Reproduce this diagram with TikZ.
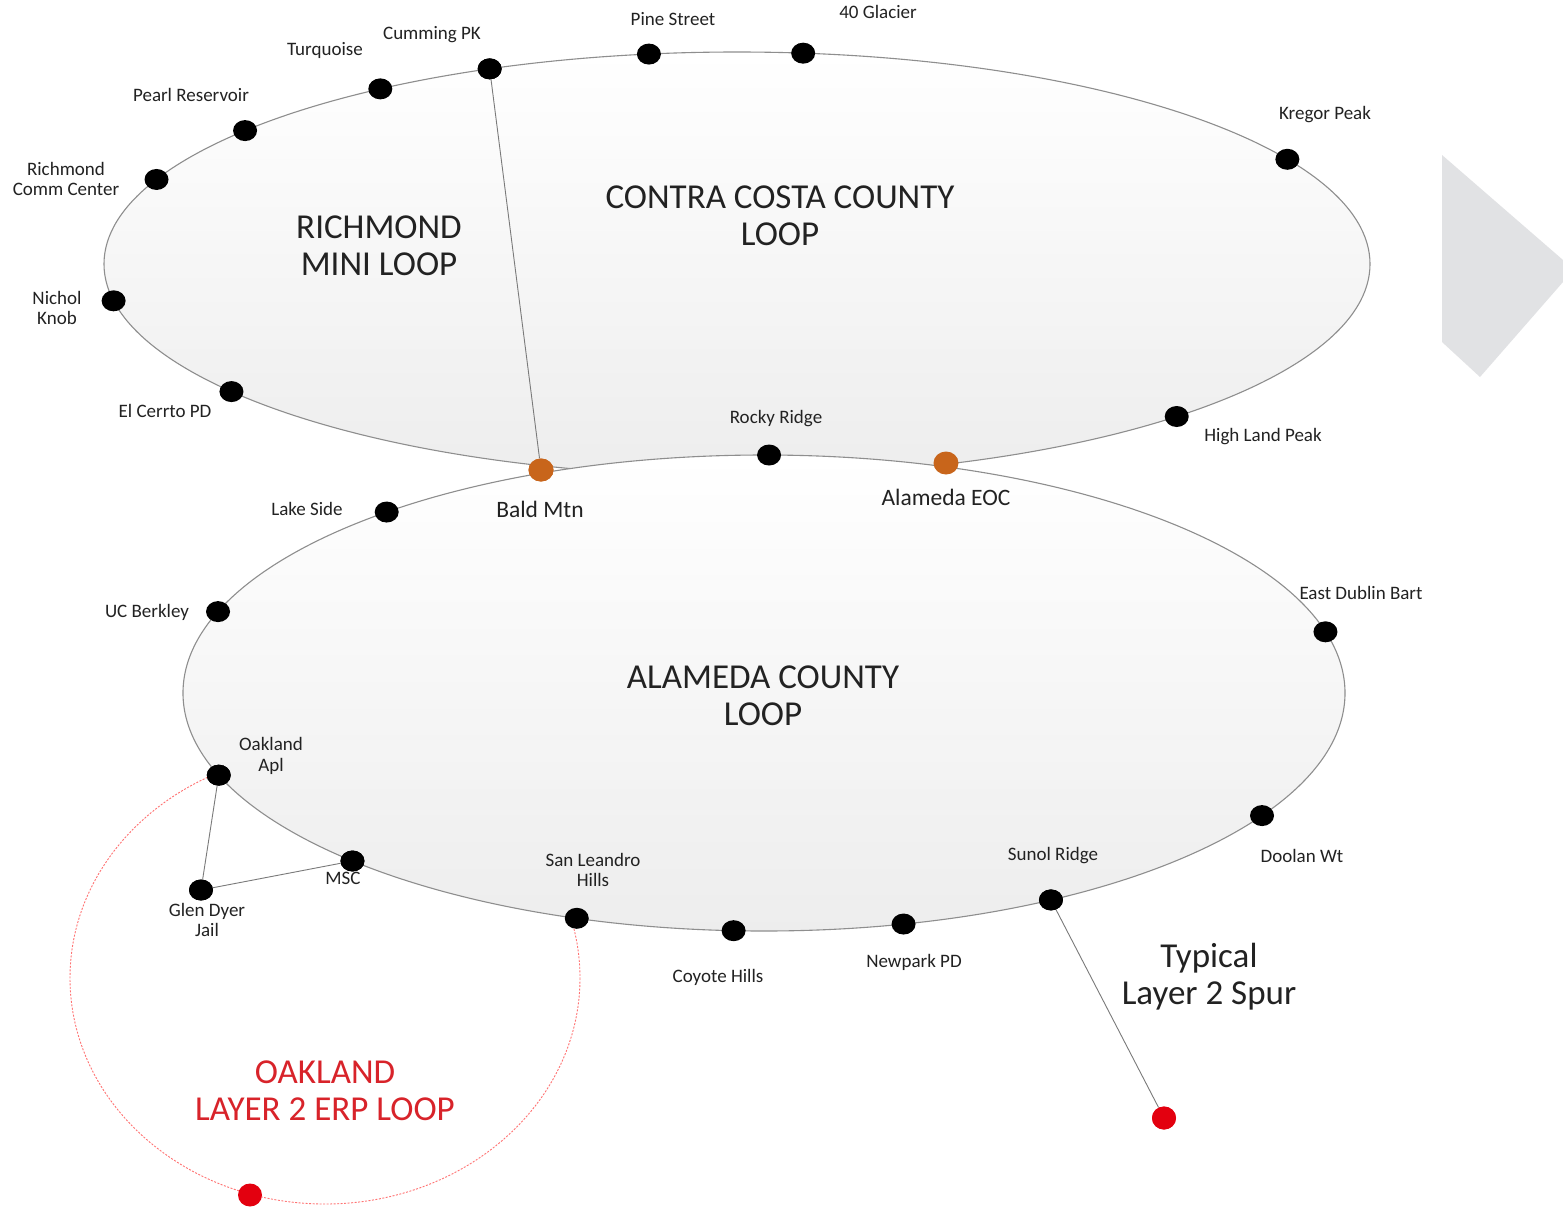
\documentclass[tikz,border=0pt]{standalone}
\usepackage{fontspec}
\setmainfont{Carlito}
\usetikzlibrary{shapes.geometric}
\definecolor{ringline}{HTML}{8E8E8E}
\definecolor{orangedot}{HTML}{C8651B}
\definecolor{reddot}{HTML}{E3000F}
\definecolor{redtext}{HTML}{D8232A}
\definecolor{txt}{HTML}{222222}
\definecolor{chev}{HTML}{E1E2E4}
\definecolor{linkc}{HTML}{7A7A7A}
\begin{document}
\begin{tikzpicture}[x=1pt,y=-1pt,
  dot/.style={ellipse,fill=black,minimum width=24pt,minimum height=21pt,inner sep=0pt},
  odot/.style={ellipse,fill=orangedot,minimum width=25pt,minimum height=23pt,inner sep=0pt},
  rdot/.style={ellipse,fill=reddot,minimum width=24pt,minimum height=23pt,inner sep=0pt},
  lbl/.style={font=\fontsize{19}{20.5}\selectfont,text=txt,align=center,inner sep=0pt},
  blbl/.style={font=\fontsize{23.5}{25}\selectfont,text=txt,inner sep=0pt},
  big/.style={font=\fontsize{35}{37}\selectfont,text=txt,align=center,inner sep=0pt},
  ring/.style={draw=ringline,line width=1.1pt,top color=white,bottom color=black!7},
  link/.style={draw=linkc,line width=0.9pt}]

\useasboundingbox (0,0) rectangle (1563,1210);
\fill[white] (0,0) rectangle (1563,1210);

% chevron
\fill[chev] (1442,155) -- (1563,260) -- (1563,282) -- (1480,377) -- (1442,342) -- cycle;

% Oakland dashed loop
\draw[draw=red!55, line width=0.9pt, dash pattern=on 2pt off 1.5pt] (325,978) ellipse [x radius=255, y radius=226];

% loops
\path[ring] (737,264) ellipse [x radius=633, y radius=212];
\path[ring] (764,693) ellipse [x radius=581, y radius=238];

% dots on Contra Costa loop
\path (737,264) ++(-98:633 and 212) node[dot] (pine) {};
\path (737,264) ++(-84:633 and 212) node[dot] (glacier) {};
\path (737,264) ++(-113:633 and 212) node[dot] (cumming) {};
\path (737,264) ++(-124.3:633 and 212) node[dot] (turq) {};
\path (737,264) ++(-141:633 and 212) node[dot] (pearl) {};
\path (737,264) ++(-156.5:633 and 212) node[dot] (richmond) {};
\path (737,264) ++(170:633 and 212) node[dot] (nichol) {};
\path (737,264) ++(143:633 and 212) node[dot] (elcerrto) {};
\path (737,264) ++(46:633 and 212) node[dot] (highland) {};
\path (737,264) ++(-29.6:633 and 212) node[dot] (kregor) {};

% dots on Alameda loop
\path (764,693) ++(-89.5:581 and 238) node[dot] (rocky) {};
\path (764,693) ++(-130.5:581 and 238) node[dot] (lakeside) {};
\path (764,693) ++(-160:581 and 238) node[dot] (ucb) {};
\path (764,693) ++(-14.9:581 and 238) node[dot] (dublin) {};
\path (764,693) ++(31:581 and 238) node[dot] (doolan) {};
\path (764,693) ++(60.4:581 and 238) node[dot] (sunol) {};
\path (764,693) ++(76.1:581 and 238) node[dot] (newpark) {};
\path (764,693) ++(93:581 and 238) node[dot] (coyote) {};
\path (764,693) ++(108.8:581 and 238) node[dot] (sanleandro) {};
\path (764,693) ++(135.1:581 and 238) node[dot] (msc) {};
\path (764,693) ++(159.8:581 and 238) node[dot] (oakapl) {};

% other dots
\node[dot] (glendyer) at (201,890) {};
\node[odot] (bald) at (541,470) {};
\node[odot] (eoc) at (946,463) {};
\node[rdot] (spur) at (1164,1118) {};
\node[rdot] (oakred) at (250,1195) {};

% connectors
\draw[link] (cumming) -- (bald);
\draw[link] (sunol) -- (spur);
\draw[link] (oakapl) -- (glendyer);
\draw[link] (glendyer) -- (msc);
\node[dot] at (cumming) {};
\node[odot] at (bald) {};
\node[dot] at (sunol) {};
\node[dot] at (oakapl) {};
\node[dot] at (glendyer) {};
\node[dot] at (msc) {};
\node[rdot] at (spur) {};

% labels
\node[lbl] (lpine) at (673,19) {Pine Street};
\node[lbl] (lglacier) at (878,12) {40 Glacier};
\node[lbl] (lcumming) at (432,35) {Cumming PK};
\node[lbl] (lturq) at (325,50) {Turquoise};
\node[lbl] (lpearl) at (191,95) {Pearl Reservoir};
\node[lbl] (lrichmond) at (66,179) {Richmond\\Comm Center};
\node[lbl] (lnichol) at (57,308) {Nichol\\Knob};
\node[lbl] (lelcerrto) at (165,411) {El Cerrto PD};
\node[blbl] (lbald) at (540,509) {Bald Mtn};
\node[lbl] (lrocky) at (776,419) {Rocky Ridge};
\node[blbl] (leoc) at (946,497) {Alameda EOC};
\node[lbl] (lhighland) at (1263,437) {High Land Peak};
\node[lbl] (lkregor) at (1325,115) {Kregor Peak};
\node[lbl] (llakeside) at (307,509) {Lake Side};
\node[lbl] (lucb) at (147,612) {UC Berkley};
\node[lbl] (ldublin) at (1361,593) {East Dublin Bart};
\node[lbl] (loakapl) at (271,756) {Oakland\\Apl};
\node[lbl] (lmsc) at (343,878) {MSC};
\node[lbl] (lglendyer) at (207,920) {Glen Dyer\\Jail};
\node[lbl] (lsanleandro) at (593,870) {San Leandro\\Hills};
\node[lbl] (lcoyote) at (718,977) {Coyote Hills};
\node[lbl] (lnewpark) at (914,962) {Newpark PD};
\node[lbl] (lsunol) at (1053,856) {Sunol Ridge};
\node[lbl] (ldoolan) at (1302,856) {Doolan Wt};

% titles
\node[big] (trichmond) at (379,246) {RICHMOND\\MINI LOOP};
\node[big] (tcontra) at (780,216) {CONTRA COSTA COUNTY\\LOOP};
\node[big] (talameda) at (763,696) {ALAMEDA COUNTY\\LOOP};
\node[big] (tspur) at (1209,977) {Typical\\Layer 2 Spur};
\node[big,text=redtext] (toakland) at (325,1091) {OAKLAND\\LAYER 2 ERP LOOP};
\end{tikzpicture}
\end{document}
